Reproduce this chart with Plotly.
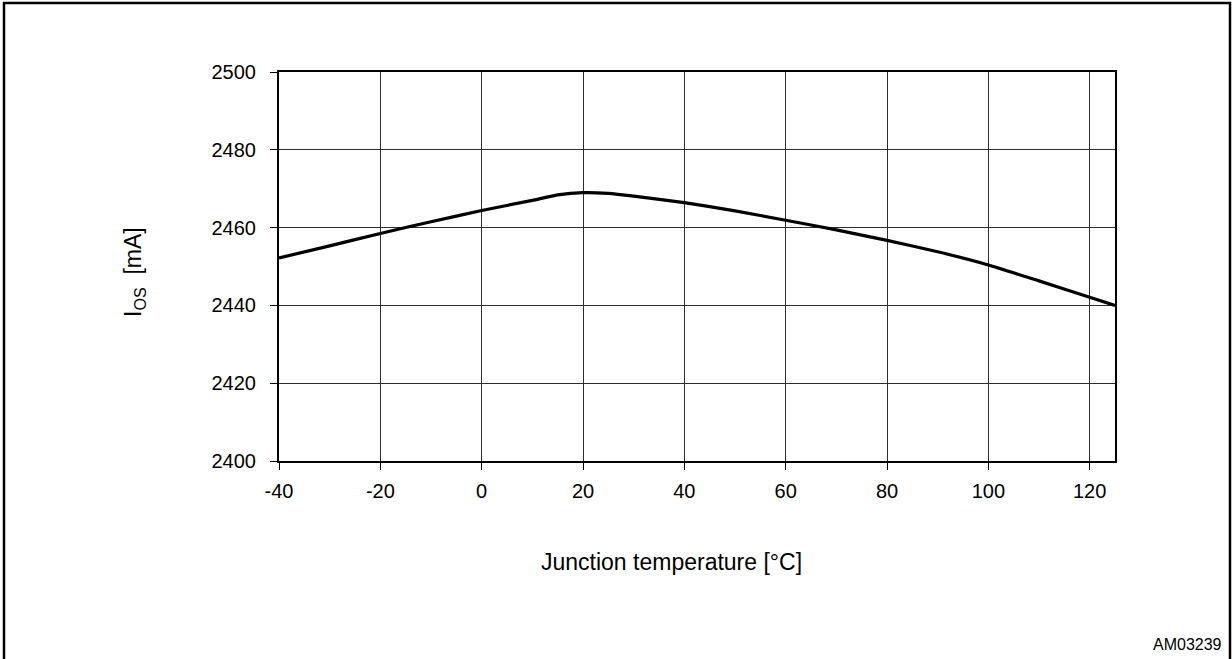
import plotly.graph_objects as go

# Data
temperature_c = [-40, -30, -20, -10, 0, 10, 15, 20, 25, 30, 40, 50, 60, 70, 80, 90, 100, 110, 120, 125]
ios_ma = [2452.2, 2455.3, 2458.5, 2461.5, 2464.4, 2467.0, 2468.4, 2469.0, 2468.8, 2468.1,
          2466.4, 2464.3, 2461.9, 2459.4, 2456.7, 2453.8, 2450.4, 2446.3, 2442.1, 2440.0]

x_ticks = [-40, -20, 0, 20, 40, 60, 80, 100, 120]
y_ticks = [2400, 2420, 2440, 2460, 2480, 2500]

FONT = "Liberation Sans, Arial, sans-serif"

W, H = 1232, 659
L, R, T, B = 279, 117, 72, 198
pw, ph = W - L - R, H - T - B


def px_x(p):
    return (p - L) / pw


def px_y(p):
    return (H - B - p) / ph


fig = go.Figure()
fig.add_trace(go.Scatter(
    x=temperature_c, y=ios_ma, mode="lines",
    line=dict(color="black", width=3.2, shape="spline", smoothing=0.5),
    showlegend=False, hoverinfo="skip",
))

axis_common = dict(
    showline=True, linecolor="black", linewidth=2, mirror=True,
    showgrid=True, gridcolor="#2e2e2e", gridwidth=1,
    ticks="outside", ticklen=7, tickcolor="black", tickwidth=1,
    zeroline=False,
    tickfont=dict(family=FONT, size=20, color="black"),
)

fig.update_layout(
    width=W, height=H,
    margin=dict(l=L, r=R, t=T, b=B, autoexpand=False),
    paper_bgcolor="white", plot_bgcolor="white",
    font=dict(family=FONT, color="black"),
    xaxis=dict(range=[-40, 125], tickvals=x_ticks, ticktext=[str(v) for v in x_ticks],
               ticklabelstandoff=4, **axis_common),
    yaxis=dict(range=[2400, 2500], tickvals=y_ticks, ticktext=[str(v) for v in y_ticks],
               ticklabelstandoff=10, **axis_common),
    shapes=[dict(
        type="rect", xref="paper", yref="paper",
        x0=px_x(4), x1=px_x(1230), y0=px_y(665), y1=px_y(3),
        line=dict(color="black", width=2.5), fillcolor="rgba(0,0,0,0)", layer="below",
    )],
    annotations=[
        dict(text="I<sub>OS</sub>  [mA]", xref="paper", yref="paper",
             x=px_x(134), y=px_y(272), textangle=-90, showarrow=False,
             xanchor="center", yanchor="middle",
             font=dict(family=FONT, size=23, color="black")),
        dict(text="Junction temperature [°C]", xref="paper", yref="paper",
             x=px_x(671), y=px_y(562), showarrow=False,
             xanchor="center", yanchor="middle",
             font=dict(family=FONT, size=23, color="black")),
        dict(text="AM03239", xref="paper", yref="paper",
             x=px_x(1224), y=px_y(644), showarrow=False,
             xanchor="right", yanchor="middle",
             font=dict(family=FONT, size=16, color="black")),
    ],
)

fig.write_html("out.html")
